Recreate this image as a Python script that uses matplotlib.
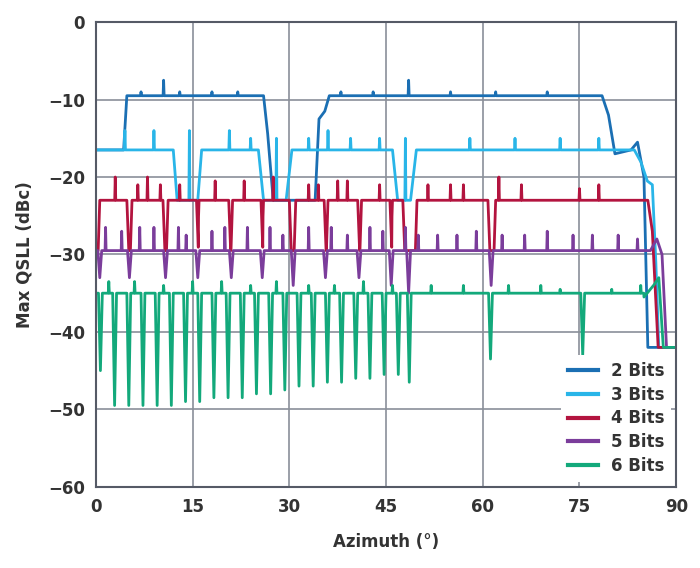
import numpy as np
import matplotlib
matplotlib.use("Agg")
import matplotlib.pyplot as plt

# ---- data ----
b2_x = [0, 4.3, 4.8, 26.0, 26.6, 27.5, 34.0, 34.6, 35.5, 36.2, 78.5, 79.5, 80.5, 83.0, 84.0, 85.0, 85.6, 90]
b2_y = [-16.5, -16.5, -9.5, -9.5, -14, -23, -23, -12.5, -11.5, -9.5, -9.5, -12, -17, -16.5, -15.5, -20, -42, -42]
b2_spk_x = [10.5, 48.5, 7, 13, 18, 22, 38, 43, 55, 62, 70]
b2_spk_y = [-7.5, -7.5, -9, -9, -9, -9, -9, -9, -9, -9, -9]

b3_x = [0, 12.0, 12.6, 15.8, 16.4, 25.2, 26.0, 29.5, 30.4, 46.0, 46.8, 48.8, 49.7, 83.5, 84.5, 85.5, 86.3, 86.8, 87.3, 90]
b3_y = [-16.5, -16.5, -23, -23, -16.5, -16.5, -23, -23, -16.5, -16.5, -23, -23, -16.5, -16.5, -18, -20.5, -21, -30, -42, -42]
b3_spk_x = [4.5, 9, 14.5, 20.7, 24, 28, 33, 36, 39.5, 44, 48, 58, 65, 72, 78]
b3_spk_y = [-14, -14, -14, -14, -15, -15, -15, -14, -15, -15, -15, -15, -15, -15, -15]

b4_plat_start = [0.6, 5.6, 11.2, 16.0, 21.2, 26.0, 31.0, 36.0, 41.2, 46.0, 49.8, 62.0]
b4_plat_end = [4.8, 10.4, 15.6, 20.6, 25.6, 30.0, 35.4, 40.6, 45.6, 47.6, 60.8, 85.6]
b4_base = -23.0
b4_dip = -29.5
b4_spk_x = [3, 6.5, 8, 10, 13, 18.5, 23, 27.5, 33, 34.5, 37.5, 39, 44, 51.5, 55, 57, 62.5, 66, 75, 78]
b4_spk_y = [-20, -21, -20, -21, -21, -20.5, -20.5, -20, -21, -21, -20.5, -20.5, -21, -21, -21, -21, -20, -21, -21.5, -21]
b4_end_x = [85.6, 86.3, 87.2, 90]
b4_end_y = [-23, -27, -42, -42]

b5_base = -29.5
b5_dip_x = [0.6, 5.2, 10.8, 15.8, 21.0, 25.8, 30.6, 35.6, 40.8, 45.8, 48.5, 61.3, 86.5]
b5_dip_y = [-33, -33, -33, -33, -33, -33, -34, -33, -33, -34, -35, -34, -33]
b5_spk_x = [1.5, 4, 6.8, 9, 12.8, 14, 18, 20, 23.5, 27, 29, 33, 36.5, 39, 42.5, 44.5, 48, 50, 53, 56, 59, 63, 66.5, 70, 74, 77, 81, 84]
b5_spk_y = [-26.5, -27, -26.5, -26.5, -26.5, -27.5, -27, -26.5, -26.5, -26.5, -27.5, -26.5, -26.5, -27.5, -26.5, -27, -26.5, -27.5, -27.5, -27.5, -27, -27.5, -27.5, -27, -27.5, -27.5, -27.5, -28]
b5_end_x = [86.0, 87.0, 87.8, 88.5, 90]
b5_end_y = [-29.5, -28, -30, -42, -42]

b6_base = -35.0
b6_dip_x = [0.7, 2.9, 5.1, 7.3, 9.5, 11.7, 13.9, 16.1, 18.3, 20.5, 22.7, 24.9, 27.1, 29.3, 31.5, 33.7, 35.9, 38.1, 40.3, 42.5, 44.7, 46.9, 48.6, 61.2, 75.5]
b6_dip_y = [-45, -49.5, -49.5, -49.5, -49.5, -49.5, -49, -49, -48.5, -48.5, -48.5, -48, -48, -47.5, -47, -47, -46.5, -46.5, -46, -46, -45.5, -45.5, -46.5, -43.5, -43]
b6_spk_x = [2, 6, 10.5, 15, 19.5, 24, 28, 33, 37, 41.5, 46, 52, 57, 64, 69, 72, 80, 84.5, 86.5]
b6_spk_y = [-33.5, -33.5, -34, -33.5, -33.5, -34, -33.5, -34, -34, -33.5, -34, -34, -34, -34, -34, -34.5, -34.5, -34, -33]
b6_end_x = [85.0, 86.5, 87.3, 88.0, 90]
b6_end_y = [-35.5, -34, -33, -42, -42]

labels = ["2 Bits", "3 Bits", "4 Bits", "5 Bits", "6 Bits"]
colors = ["#1b6fb3", "#29b5e8", "#b3143f", "#7b3d9b", "#13a97b"]

x = np.arange(0, 90.001, 0.02)

def add_spikes(y, sx, sy, w=0.08):
    y = y.copy()
    for c, v in zip(sx, sy):
        prof = v + (y - v) * np.clip(np.abs(x - c) / w, 0, 1)
        y = np.maximum(y, prof)
    return y

def add_dips(y, dx, dy, w=0.35):
    y = y.copy()
    for c, v in zip(dx, dy):
        prof = v + (y - v) * np.clip(np.abs(x - c) / w, 0, 1)
        y = np.minimum(y, prof)
    return y

y2 = add_spikes(np.interp(x, b2_x, b2_y), b2_spk_x, b2_spk_y)
y3 = add_spikes(np.interp(x, b3_x, b3_y), b3_spk_x, b3_spk_y)

px, py = [0.0], [b4_dip]
for s, e in zip(b4_plat_start, b4_plat_end):
    px += [s - 0.25, s, e, e + 0.3]
    py += [b4_dip, b4_base, b4_base, b4_dip]
y4 = np.interp(x, px, py)
y4 = add_spikes(y4, b4_spk_x, b4_spk_y)
m = x >= b4_end_x[0]
y4[m] = np.interp(x[m], b4_end_x, b4_end_y)

y5 = np.full_like(x, b5_base)
y5 = add_dips(y5, b5_dip_x, b5_dip_y, w=0.3)
y5 = add_spikes(y5, b5_spk_x, b5_spk_y)
m = x >= b5_end_x[0]
y5[m] = np.interp(x[m], b5_end_x, b5_end_y)

y6 = np.full_like(x, b6_base)
y6 = add_spikes(y6, b6_spk_x, b6_spk_y)
y6 = add_dips(y6, b6_dip_x, b6_dip_y, w=0.3)
m = x >= b6_end_x[0]
y6[m] = np.interp(x[m], b6_end_x, b6_end_y)

series = [y2, y3, y4, y5, y6]

fig = plt.figure(figsize=(7, 5.68), dpi=100)
ax = fig.add_axes([0.137, 0.143, 0.829, 0.818])
for ys, c, l in zip(series, colors, labels):
    ax.plot(x, ys, color=c, lw=2.0, label=l)

ax.set_xlim(0, 90)
ax.set_ylim(-60, 0)
ax.set_xticks(range(0, 91, 15))
ax.set_yticks(range(-60, 1, 10))
ax.grid(True, color="#8a8f99", lw=1.2)
ax.set_axisbelow(True)
for s in ax.spines.values():
    s.set_color("#555a66")
    s.set_linewidth(1.5)
ax.tick_params(length=0, labelsize=12, labelcolor="#333333", pad=8)
for t in ax.get_xticklabels() + ax.get_yticklabels():
    t.set_fontweight("bold")
ax.set_xlabel("Azimuth (°)", fontsize=12, fontweight="bold", color="#333333", labelpad=12)
ax.set_ylabel("Max QSLL (dBc)", fontsize=12, fontweight="bold", color="#333333", labelpad=10)
leg = ax.legend(loc="lower right", frameon=True, fontsize=12, handlelength=1.8,
                borderaxespad=0.3, labelspacing=0.35)
leg.get_frame().set_edgecolor("none")
leg.get_frame().set_facecolor("white")
leg.get_frame().set_alpha(1)
for t in leg.get_texts():
    t.set_fontweight("bold")
    t.set_color("#333333")
for h in leg.get_lines():
    h.set_linewidth(3)
fig.savefig("out.png", dpi=100)
